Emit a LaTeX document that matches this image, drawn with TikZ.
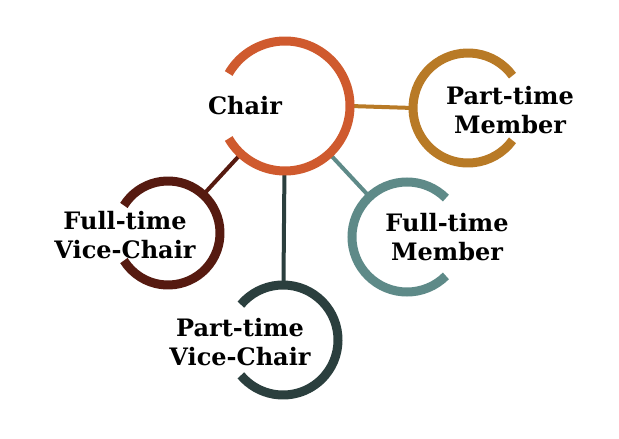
\documentclass[tikz,border=0pt]{standalone}
\usepackage{fontspec}
\setmainfont{DejaVu Serif}
\usetikzlibrary{positioning}
\definecolor{chaircol}{HTML}{CF5A2E}
\definecolor{ptmcol}{HTML}{B87A26}
\definecolor{ftmcol}{HTML}{5E8A88}
\definecolor{ftvccol}{HTML}{561A10}
\definecolor{ptvccol}{HTML}{2B3F3E}
\tikzset{
  ring/.style={circle,inner sep=0pt,outer sep=0pt,minimum size=#1},
  label text/.style={font=\bfseries\fontsize{24}{29}\selectfont,align=center,text=black},
  link/.style={line width=4pt}
}
\begin{document}
\begin{tikzpicture}[x=1pt,y=1pt]
\useasboundingbox (0,0) rectangle (619,439);
\begin{scope}[line width=9pt]
  \node[ring=130pt] (chair) at (285,333) {};
  \node[ring=110pt] (ptm) at (468,331) {};
  \node[ring=110pt] (ftm) at (407,202) {};
  \node[ring=104pt] (ftvc) at (168,206) {};
  \node[ring=110pt] (ptvc) at (283,99) {};
  % connectors
  \draw[link,ptmcol] (chair.0) -- (ptm.180);
  \draw[link,ftmcol] (chair) -- (ftm);
  \draw[link,ftvccol] (chair) -- (ftvc);
  \draw[link,ptvccol] (chair) -- (ptvc);
  % rings
  \draw[chaircol] (chair.150) arc[start angle=150,end angle=-150,radius=65pt];
  \draw[ptmcol] (ptm.36) arc[start angle=36,end angle=324,radius=55pt];
  \draw[ftmcol] (ftm.45) arc[start angle=45,end angle=315,radius=55pt];
  \draw[ftvccol] (ftvc.148) arc[start angle=148,end angle=-148,radius=52pt];
  \draw[ptvccol] (ptvc.140) arc[start angle=140,end angle=-140,radius=55pt];
\end{scope}
% labels
\node[label text] (chairtext) at (245,333) {Chair};
\node[label text] (ptmtext) at (510,329) {Part-time\\Member};
\node[label text] (ftmtext) at (447,202) {Full-time\\Member};
\node[label text] (ftvctext) at (125,204) {Full-time\\Vice-Chair};
\node[label text] (ptvctext) at (240,97) {Part-time\\Vice-Chair};
\end{tikzpicture}
\end{document}
